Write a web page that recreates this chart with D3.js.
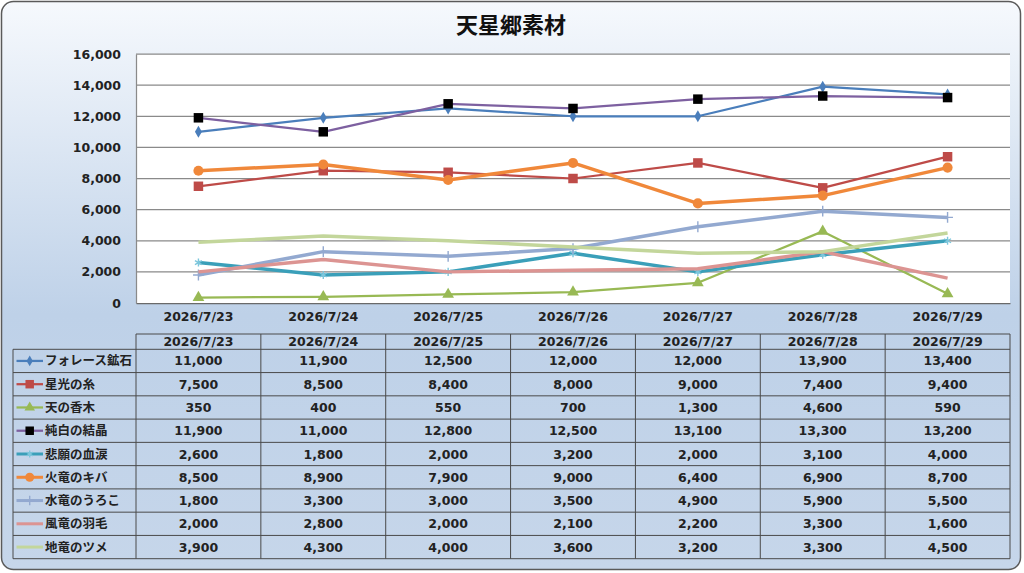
<!DOCTYPE html>
<html>
<head>
<meta charset="utf-8">
<script src="https://cdnjs.cloudflare.com/ajax/libs/d3/7.8.5/d3.min.js"></script>
<style>
  html, body { margin: 0; padding: 0; background: #fff; }
  svg { display: block; }
</style>
</head>
<body>
<div id="chart"></div>
<script>
// data
const dates = ['2026/7/23', '2026/7/24', '2026/7/25', '2026/7/26', '2026/7/27', '2026/7/28', '2026/7/29'];
const seriesNames = ['フォレース鉱石', '星光の糸', '天の香木', '純白の結晶', '悲願の血涙', '火竜のキバ', '水竜のうろこ', '風竜の羽毛', '地竜のツメ'];
const forestOre   = [11000, 11900, 12500, 12000, 12000, 13900, 13400];
const starThread  = [7500, 8500, 8400, 8000, 9000, 7400, 9400];
const heavenWood  = [350, 400, 550, 700, 1300, 4600, 590];
const pureCrystal = [11900, 11000, 12800, 12500, 13100, 13300, 13200];
const wishTears   = [2600, 1800, 2000, 3200, 2000, 3100, 4000];
const fireFang    = [8500, 8900, 7900, 9000, 6400, 6900, 8700];
const waterScale  = [1800, 3300, 3000, 3500, 4900, 5900, 5500];
const windFeather = [2000, 2800, 2000, 2100, 2200, 3300, 1600];
const earthClaw   = [3900, 4300, 4000, 3600, 3200, 3300, 4500];
const yTicks = [0, 2000, 4000, 6000, 8000, 10000, 12000, 14000, 16000];
const title = '天星郷素材';

const seriesValues = [forestOre, starThread, heavenWood, pureCrystal, wishTears, fireFang, waterScale, windFeather, earthClaw];

// line / marker look per series (Excel 2007 style)
const styles = [
  { line: '#4a7ebb', width: 2.25, marker: 'diamond', fill: '#4a7ebb', size: 42 },
  { line: '#be4b48', width: 2.25, marker: 'square',  fill: '#be4b48', size: 90 },
  { line: '#98b954', width: 2.25, marker: 'triangle', fill: '#98b954', size: 60 },
  { line: '#7d60a0', width: 2.25, marker: 'square',  fill: '#000000', size: 90 },
  { line: '#3a9fb9', width: 3.5,  marker: 'asterisk', fill: '#7cc6dc', size: 45 },
  { line: '#f0883a', width: 3.5,  marker: 'circle',  fill: '#f0883a', size: 80 },
  { line: '#93a9d0', width: 3.5,  marker: 'plus',    fill: '#93a9d0', size: 40 },
  { line: '#dc9492', width: 3.5,  marker: null },
  { line: '#c3d69b', width: 3.5,  marker: null }
];

const W = 1024, H = 573;
const plot = { left: 136, right: 1010, top: 54, bottom: 303 };
const table = { left: 13, headTop: 334, top: 349.3, bottom: 558.7 };
const numFont = "'DejaVu Sans', sans-serif";
const jpFont = "'Noto Sans CJK JP', sans-serif";

const svg = d3.select('#chart').append('svg')
  .attr('width', W)
  .attr('height', H);

const defs = svg.append('defs');
const grad = defs.append('linearGradient')
  .attr('id', 'bg')
  .attr('x1', 0).attr('y1', 0).attr('x2', 0).attr('y2', 1);
grad.append('stop').attr('offset', '0%').attr('stop-color', '#f6f9fd');
grad.append('stop').attr('offset', '55%').attr('stop-color', '#bed1e8');
grad.append('stop').attr('offset', '100%').attr('stop-color', '#c6d6ea');

svg.append('rect')
  .attr('x', 1.5).attr('y', 1.5)
  .attr('width', 1019).attr('height', 568)
  .attr('rx', 12)
  .attr('fill', 'url(#bg)')
  .attr('stroke', '#5a5a5a')
  .attr('stroke-width', 1.5);

svg.append('text')
  .attr('x', 511).attr('y', 33)
  .attr('text-anchor', 'middle')
  .style('font-family', jpFont)
  .style('font-weight', 'bold')
  .style('font-size', '22px')
  .attr('fill', '#111')
  .text(title);

const x = d3.scaleBand().domain(dates).range([plot.left, plot.right]);
const y = d3.scaleLinear().domain([0, 16000]).range([plot.bottom, plot.top]);
const cx = d => x(d) + x.bandwidth() / 2;

svg.append('rect')
  .attr('x', plot.left).attr('y', plot.top)
  .attr('width', plot.right - plot.left).attr('height', plot.bottom - plot.top)
  .attr('fill', '#fff');

// gridlines
svg.append('g').selectAll('line')
  .data(yTicks.filter(t => t > 0)).join('line')
  .attr('x1', plot.left).attr('x2', plot.right)
  .attr('y1', d => y(d)).attr('y2', d => y(d))
  .attr('stroke', '#8a8a8a')
  .attr('stroke-width', 1.25);

const yAxis = svg.append('g')
  .attr('transform', `translate(${plot.left},0)`)
  .call(d3.axisLeft(y).tickValues(yTicks).tickFormat(d3.format(',')).tickSize(0).tickPadding(15));
yAxis.select('.domain').attr('stroke', '#8a8a8a').attr('stroke-width', 1.25);
yAxis.selectAll('text')
  .style('font-family', numFont)
  .style('font-weight', 'bold')
  .style('font-size', '12.5px')
  .attr('fill', '#222');

const xAxis = svg.append('g')
  .attr('transform', `translate(0,${plot.bottom})`)
  .call(d3.axisBottom(x).tickSize(0).tickPadding(9));
xAxis.select('.domain').attr('stroke', '#6a6a6a').attr('stroke-width', 1.25);
xAxis.selectAll('text')
  .style('font-family', numFont)
  .style('font-weight', 'bold')
  .style('font-size', '12.5px')
  .attr('fill', '#222');

function markerPath(type, size) {
  const map = {
    diamond: d3.symbolDiamond,
    square: d3.symbolSquare,
    triangle: d3.symbolTriangle,
    circle: d3.symbolCircle,
    asterisk: d3.symbolAsterisk,
    plus: d3.symbolPlus
  };
  return d3.symbol().type(map[type]).size(size)();
}

function drawMarker(g, st, px, py, scale) {
  if (!st.marker) return;
  const stroked = st.marker === 'asterisk' || st.marker === 'plus';
  g.append('path')
    .attr('d', markerPath(st.marker, st.size * scale))
    .attr('transform', `translate(${px},${py})`)
    .attr('fill', stroked ? 'none' : st.fill)
    .attr('stroke', stroked ? st.fill : 'none')
    .attr('stroke-width', stroked ? 1.4 : 0);
}

const line = d3.line()
  .x((d, i) => cx(dates[i]))
  .y(d => y(d));

const series = svg.append('g');
seriesValues.forEach((vals, k) => {
  const st = styles[k];
  const g = series.append('g');
  g.append('path')
    .attr('d', line(vals))
    .attr('fill', 'none')
    .attr('stroke', st.line)
    .attr('stroke-width', st.width)
    .attr('stroke-linejoin', 'round');
  vals.forEach((v, i) => drawMarker(g, st, cx(dates[i]), y(v), 1));
});

// data table under the chart
const rows = d3.scaleBand().domain(seriesNames).range([table.top, table.bottom]);
const tg = svg.append('g');
const edge = '#4a4a4a';
const colEdges = dates.map(d => x(d)).concat([plot.right]);

// horizontal lines
tg.append('line')
  .attr('x1', plot.left).attr('x2', plot.right)
  .attr('y1', table.headTop).attr('y2', table.headTop)
  .attr('stroke', edge);
tg.selectAll('.hl')
  .data(seriesNames).join('line')
  .attr('x1', table.left).attr('x2', plot.right)
  .attr('y1', d => rows(d)).attr('y2', d => rows(d))
  .attr('stroke', edge);
tg.append('line')
  .attr('x1', table.left).attr('x2', plot.right)
  .attr('y1', table.bottom).attr('y2', table.bottom)
  .attr('stroke', edge);

// vertical lines
tg.selectAll('.vl')
  .data(colEdges).join('line')
  .attr('x1', d => d).attr('x2', d => d)
  .attr('y1', table.headTop).attr('y2', table.bottom)
  .attr('stroke', edge);
tg.append('line')
  .attr('x1', table.left).attr('x2', table.left)
  .attr('y1', table.top).attr('y2', table.bottom)
  .attr('stroke', edge);

tg.selectAll('.head')
  .data(dates).join('text')
  .attr('x', d => cx(d))
  .attr('y', (table.headTop + table.top) / 2)
  .attr('dy', '0.36em')
  .attr('text-anchor', 'middle')
  .style('font-family', numFont)
  .style('font-weight', 'bold')
  .style('font-size', '12.5px')
  .attr('fill', '#222')
  .text(d => d);

const fmt = d3.format(',');
seriesNames.forEach((name, k) => {
  const st = styles[k];
  const ry = rows(name) + rows.bandwidth() / 2;
  const lg = tg.append('g');
  lg.append('line')
    .attr('x1', 16.5).attr('x2', 43)
    .attr('y1', ry).attr('y2', ry)
    .attr('stroke', st.line)
    .attr('stroke-width', Math.min(st.width, 3));
  drawMarker(lg, st, 29.7, ry, 0.8);
  lg.append('text')
    .attr('x', 45).attr('y', ry)
    .attr('dy', '0.36em')
    .style('font-family', jpFont)
    .style('font-weight', 'bold')
    .style('font-size', '12.5px')
    .attr('fill', '#222')
    .text(name);

  tg.append('g').selectAll('text')
    .data(seriesValues[k]).join('text')
    .attr('x', (d, i) => cx(dates[i]))
    .attr('y', ry)
    .attr('dy', '0.36em')
    .attr('text-anchor', 'middle')
    .style('font-family', numFont)
    .style('font-weight', 'bold')
    .style('font-size', '12.5px')
    .attr('fill', '#222')
    .text(d => fmt(d));
});
</script>
</body>
</html>
